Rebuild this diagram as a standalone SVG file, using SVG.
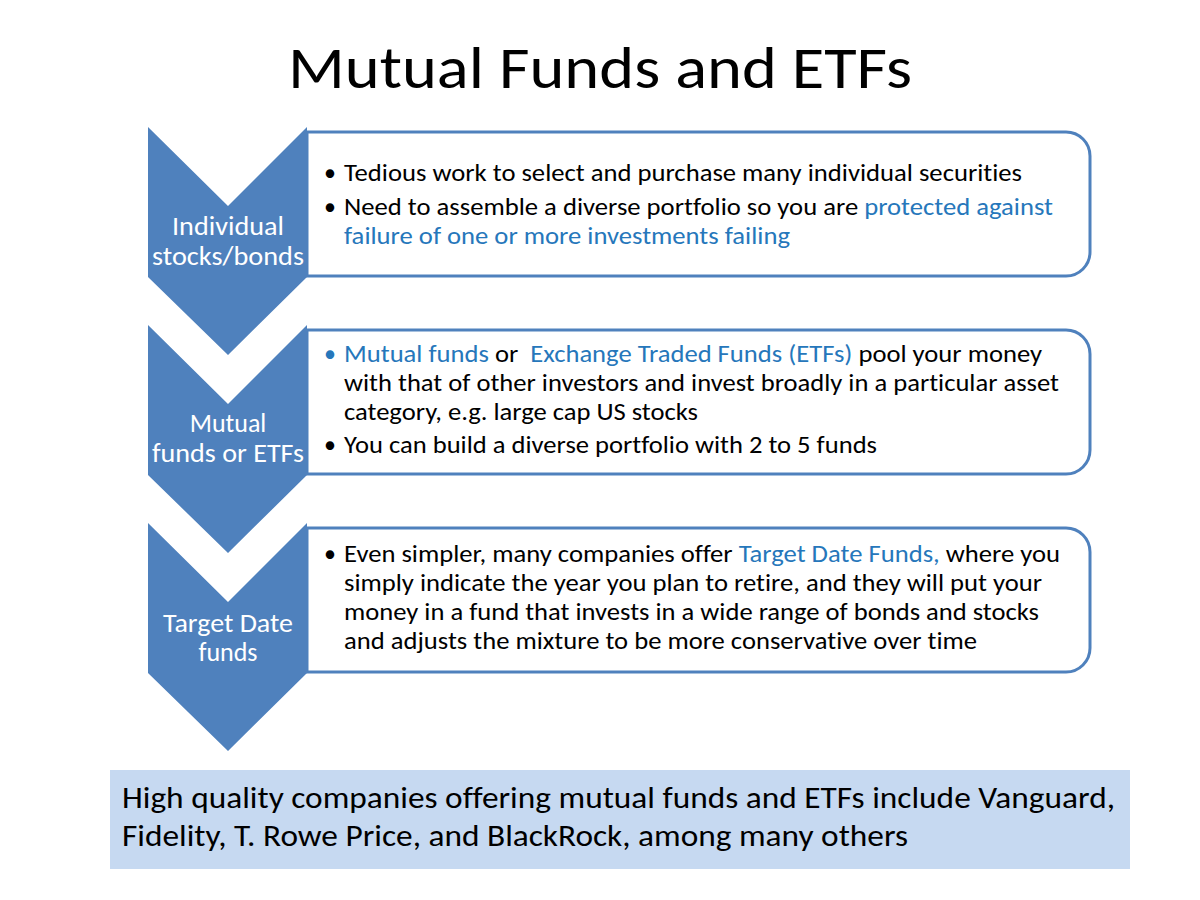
<svg xmlns="http://www.w3.org/2000/svg" width="1200" height="900" viewBox="0 0 1200 900">
<style>
.t{font-family:Carlito,Lato,"Open Sans","Liberation Sans",sans-serif;font-variant-ligatures:none;}
.title{font-size:60px;fill:#000;text-anchor:middle;}
.body{font-size:24px;fill:#000;}
.blue{fill:#2677bb;}
.lbl{font-size:26px;fill:#fff;text-anchor:middle;}
.bot{font-size:30px;fill:#000;}
.box{fill:#fff;stroke:#4f81bd;stroke-width:3;}
.chev{fill:#4f81bd;}
</style>
<rect width="1200" height="900" fill="#fff"/>
<text class="t title" x="600" y="88" textLength="624" lengthAdjust="spacingAndGlyphs">Mutual Funds and ETFs</text>

<g id="box1">
<path class="box" d="M307,132 H1066 A24,24 0 0 1 1090,156 V252 A24,24 0 0 1 1066,276 H307 Z"/>
<text class="t body" x="324" y="181">•</text>
<text class="t body" x="344" y="181" textLength="678" lengthAdjust="spacingAndGlyphs">Tedious work to select and purchase many individual securities</text>
<text class="t body" x="324" y="215">•</text>
<text class="t body" x="344" y="215" textLength="709" lengthAdjust="spacingAndGlyphs">Need to assemble a diverse portfolio so you are <tspan class="blue">protected against</tspan></text>
<text class="t body blue" x="344" y="244" textLength="446" lengthAdjust="spacingAndGlyphs">failure of one or more investments failing</text>
</g>

<g id="box2">
<path class="box" d="M307,330 H1066 A24,24 0 0 1 1090,354 V450 A24,24 0 0 1 1066,474 H307 Z"/>
<text class="t body blue" x="324" y="362">•</text>
<text class="t body" x="344" y="362" textLength="698" lengthAdjust="spacingAndGlyphs"><tspan class="blue">Mutual funds</tspan> or&#160; <tspan class="blue">Exchange Traded Funds (ETFs)</tspan> pool your money</text>
<text class="t body" x="344" y="391" textLength="715" lengthAdjust="spacingAndGlyphs">with that of other investors and invest broadly in a particular asset</text>
<text class="t body" x="344" y="420" textLength="354" lengthAdjust="spacingAndGlyphs">category, e.g. large cap US stocks</text>
<text class="t body" x="324" y="453">•</text>
<text class="t body" x="344" y="453" textLength="533" lengthAdjust="spacingAndGlyphs">You can build a diverse portfolio with 2 to 5 funds</text>
</g>

<g id="box3">
<path class="box" d="M307,528 H1066 A24,24 0 0 1 1090,552 V648 A24,24 0 0 1 1066,672 H307 Z"/>
<text class="t body" x="324" y="562">•</text>
<text class="t body" x="344" y="562" textLength="716" lengthAdjust="spacingAndGlyphs">Even simpler, many companies offer <tspan class="blue">Target Date Funds,</tspan> where you</text>
<text class="t body" x="344" y="591" textLength="698" lengthAdjust="spacingAndGlyphs">simply indicate the year you plan to retire, and they will put your</text>
<text class="t body" x="344" y="620" textLength="695" lengthAdjust="spacingAndGlyphs">money in a fund that invests in a wide range of bonds and stocks</text>
<text class="t body" x="344" y="649" textLength="633" lengthAdjust="spacingAndGlyphs">and adjusts the mixture to be more conservative over time</text>
</g>

<g id="chevron1">
<polygon class="chev" points="148,127 228,206 307,127 307,277 228,355 148,277"/>
<text class="t lbl" x="228" y="235" textLength="112" lengthAdjust="spacingAndGlyphs">Individual</text>
<text class="t lbl" x="228" y="265" textLength="152" lengthAdjust="spacingAndGlyphs">stocks/bonds</text>
</g>
<g id="chevron2">
<polygon class="chev" points="148,325 228,404 307,325 307,475 228,553 148,475"/>
<text class="t lbl" x="228" y="432">Mutual</text>
<text class="t lbl" x="228" y="462" textLength="152" lengthAdjust="spacingAndGlyphs">funds or ETFs</text>
</g>
<g id="chevron3">
<polygon class="chev" points="148,523 228,602 307,523 307,673 228,751 148,673"/>
<text class="t lbl" x="228" y="632" textLength="130" lengthAdjust="spacingAndGlyphs">Target Date</text>
<text class="t lbl" x="228" y="661">funds</text>
</g>

<g id="connectors"></g>

<g id="footer">
<rect x="110" y="770" width="1020" height="99" fill="#c6d9f1"/>
<text class="t bot" x="122" y="808" textLength="993" lengthAdjust="spacingAndGlyphs">High quality companies offering mutual funds and ETFs include Vanguard,</text>
<text class="t bot" x="122" y="846" textLength="786" lengthAdjust="spacingAndGlyphs">Fidelity, T. Rowe Price, and BlackRock, among many others</text>
</g>
</svg>
